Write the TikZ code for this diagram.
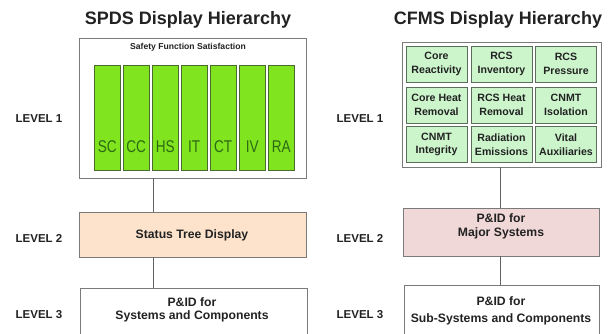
\documentclass[tikz,border=0pt]{standalone}
\usepackage{fontspec}
\setmainfont{Liberation Sans}
\definecolor{barfill}{HTML}{80E41E}
\definecolor{bartext}{HTML}{2D6A14}
\definecolor{barline}{HTML}{4A6A30}
\definecolor{cellfill}{HTML}{CCF5CC}
\definecolor{cellline}{HTML}{5A6E5A}
\definecolor{peach}{HTML}{FDE3CB}
\definecolor{pink}{HTML}{F1D8D8}
\definecolor{frame}{HTML}{7A7A7A}
\definecolor{txt}{HTML}{222222}
\begin{document}
\begin{tikzpicture}[x=1pt,y=-1pt,
  title/.style={font=\bfseries\fontsize{18}{20}\selectfont, text=txt},
  lvl/.style={font=\bfseries\fontsize{11.5}{13}\selectfont, text=txt},
  frm/.style={draw=frame, line width=0.8pt, fill=white, inner sep=0pt},
  lvlbox/.style={draw=frame, line width=0.8pt, inner sep=0pt},
  boxtext/.style={font=\bfseries\fontsize{12.2}{14}\selectfont, text=txt, inner sep=0pt},
  bar/.style={draw=barline, line width=0.5pt, fill=barfill, minimum width=25.5pt, minimum height=105pt, inner sep=0pt},
  barlabel/.style={font=\fontsize{17}{19}\selectfont, text=bartext, inner sep=0pt},
  cell/.style={draw=cellline, line width=0.8pt, fill=cellfill, minimum width=61pt, minimum height=36pt, inner sep=0pt, align=center, font=\bfseries\fontsize{10.6}{13.5}\selectfont, text=txt},
  conn/.style={draw=frame!80!black, line width=0.8pt}
]
\useasboundingbox (0,0) rectangle (611,334);

% titles
\node[title] (t1) at (188,20) {SPDS Display Hierarchy};
\node[title] (t2) at (498,20) {CFMS Display Hierarchy};

% level labels
\node[lvl] (l1a) at (39,119) {LEVEL 1};
\node[lvl] (l2a) at (39,238) {LEVEL 2};
\node[lvl] (l3a) at (39,315) {LEVEL 3};
\node[lvl] (l1b) at (360,119) {LEVEL 1};
\node[lvl] (l2b) at (360,238) {LEVEL 2};
\node[lvl] (l3b) at (360,315) {LEVEL 3};

% SPDS level 1
\node[frm, minimum width=227pt, minimum height=140pt] (spds) at (192.5,108) {};
\node[font=\bfseries\fontsize{8.6}{10}\selectfont, text=txt, inner sep=0pt] (sfs) at (188,47) {Safety Function Satisfaction};
\foreach \i/\t in {0/SC,1/CC,2/HS,3/IT,4/CT,5/IV,6/RA}{
  \node[bar] (b\i) at (107.2+29*\i,117.5) {};
  \node[barlabel] (bl\i) at (107.2+29*\i,147) {\scalebox{0.8}[1]{\t}};
}

% SPDS level 2 and 3
\node[lvlbox, fill=peach, minimum width=227pt, minimum height=45pt] (st) at (192.5,234.5) {};
\node[boxtext] (stt) at (192,235) {Status Tree Display};
\node[lvlbox, fill=white, minimum width=227pt, minimum height=60pt] (pa) at (193.5,318) {};
\node[boxtext] (pa1) at (192,302) {P\&ID for};
\node[boxtext] (pa2) at (192,316) {Systems and Components};

% CFMS level 1
\node[frm, minimum width=199pt, minimum height=125pt] (cfms) at (501.5,104.5) {};
\node[cell] (c11) at (436.5,64) {Core\\Reactivity};
\node[cell] (c12) at (501.5,64) {RCS\\Inventory};
\node[cell] (c13) at (566,64) {RCS\\Pressure};
\node[cell] (c21) at (436.5,105) {Core Heat\\Removal};
\node[cell] (c22) at (501.5,105) {RCS Heat\\Removal};
\node[cell] (c23) at (566,105) {CNMT\\Isolation};
\node[cell] (c31) at (436.5,144.5) {CNMT\\Integrity};
\node[cell] (c32) at (501.5,144.5) {Radiation\\Emissions};
\node[cell] (c33) at (566,144.5) {Vital\\Auxiliaries};

% CFMS level 2 and 3
\node[lvlbox, fill=pink, minimum width=196pt, minimum height=48pt] (mj) at (501,232) {};
\node[boxtext] (mj1) at (501,218.5) {P\&ID for};
\node[boxtext] (mj2) at (501,233) {Major Systems};
\node[lvlbox, fill=white, minimum width=195pt, minimum height=60pt] (pb) at (501.5,315) {};
\node[boxtext] (pb1) at (501,301) {P\&ID for};
\node[boxtext] (pb2) at (501,319.5) {Sub-Systems and Components};

% connectors
\coordinate (ca) at (153,0);
\coordinate (cb) at (500.5,0);
\draw[conn] (spds.south -| ca) -- (st.north -| ca);
\draw[conn] (st.south -| ca) -- (pa.north -| ca);
\draw[conn] (cfms.south -| cb) -- (mj.north -| cb);
\draw[conn] (mj.south -| cb) -- (pb.north -| cb);
\end{tikzpicture}
\end{document}
